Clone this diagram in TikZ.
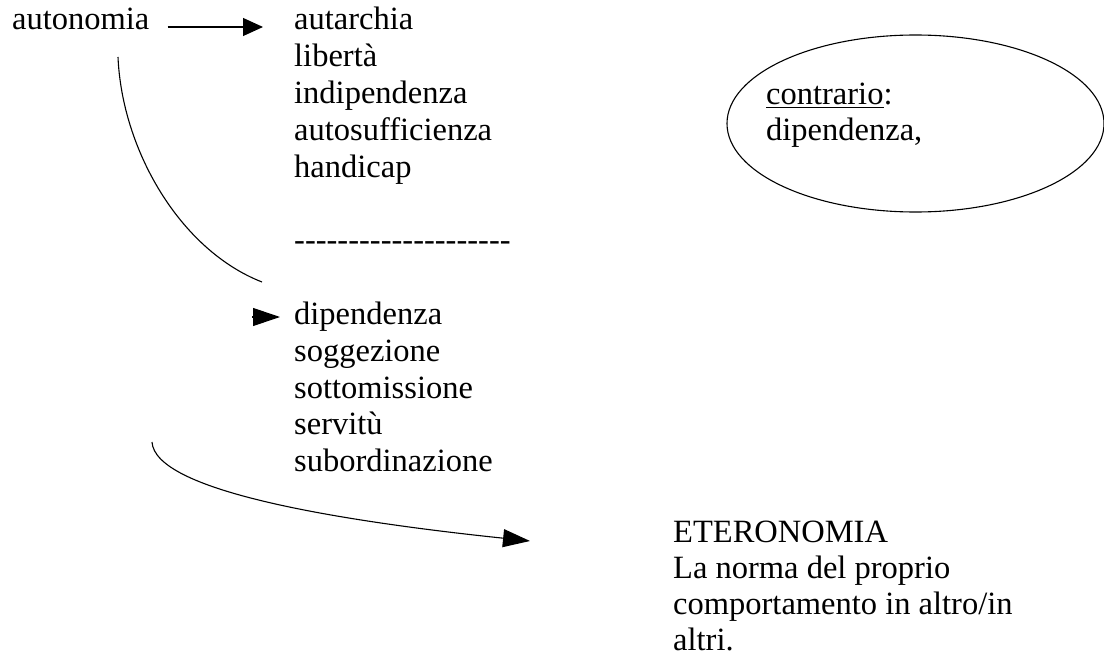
\documentclass[tikz,border=0pt]{standalone}
\usepackage{fontspec}
\setmainfont{Liberation Serif}
\usetikzlibrary{arrows.meta,shapes.geometric}
\newcommand{\hy}{\mbox{-}}
\newcommand{\trattini}{\hy\hy\hy\hy\hy\hy\hy\hy\hy\hy\hy\hy\hy\hy\hy\hy\hy\hy\hy\hy}

\begin{document}
\begin{tikzpicture}[x=1pt, y=-1pt]
    \tikzset{word/.style = {anchor=base west, inner sep=0pt, font=\fontsize{32.5}{36.8}\selectfont}}
    \tikzset{link/.style = {draw, line width=1.1pt}}
    \tikzset{ptr/.style = {link, -{Triangle[length=20pt, width=18pt]}}}
    \tikzset{bigptr/.style = {link, -{Triangle[length=27pt, width=18pt]}}}

    \useasboundingbox (0,0) rectangle (1104,658);

    % words
    \node[word] (auto) at (12,30) {autonomia};
    \foreach \i/\w in {0/autarchia, 1/libertà, 2/indipendenza, 3/autosufficienza, 4/handicap,
                       6/\trattini, 8/dipendenza, 9/soggezione, 10/sottomissione, 11/servitù, 12/subordinazione}
        \node[word] (s\i) at (294, 30+36.8*\i) {\w};
    \foreach \w [count=\i from 0] in {ETERONOMIA, La norma del proprio, {comportamento in altro/in}, altri.}
        \node[word] (e\i) at (673, 542+36.2*\i) {\w};

    % contrario
    \node[draw, ellipse, line width=1.1pt, minimum width=377pt, minimum height=177pt] (contr) at (915.5,123.5) {};
    \node[word] (c0) at (766,105) {\underline{contrario}:};
    \node[word] (c1) at (766,141) {dipendenza,};

    % arrows
    \draw[ptr] ([xshift=18pt, yshift=3pt]auto.base east) -- ([xshift=-31pt, yshift=3pt]s0.base west);
    \draw[link] ([shift={(106,27)}]auto.base west) .. controls +(4,93) and +(-82,-32) .. ([shift={(-32,-42.4)}]s8.base west);
    \draw[bigptr] ([shift={(-42,-7.4)}]s8.base west) -- ([shift={(-14,-7.4)}]s8.base west);
    \draw[bigptr] ([shift={(-142,-29.6)}]s12.base west) .. controls +(3,48) and +(-200,-21) .. ([shift={(-143,-1)}]e0.base west);
\end{tikzpicture}
\end{document}
